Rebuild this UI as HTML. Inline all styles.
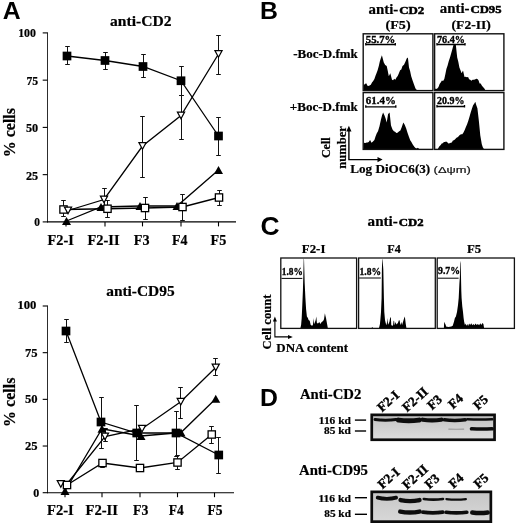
<!DOCTYPE html>
<html lang="en"><head><meta charset="utf-8"><title>Figure</title>
<style>html,body{margin:0;padding:0;background:#fff}body{width:520px;height:525px;overflow:hidden}svg{display:block}.s{font-family:"Liberation Serif",serif;font-weight:bold;fill:#000;stroke:#000;stroke-width:0.22px}.a{font-family:"Liberation Sans",sans-serif;font-weight:bold;fill:#000}.r{font-family:"Liberation Sans",sans-serif;fill:#111;stroke:#111;stroke-width:0.2px}</style>
</head><body>
<svg width="520" height="525" viewBox="0 0 520 525">
<rect width="520" height="525" fill="#fff"/>
<text class="a" x="2.8" y="19.2" font-size="24.8">A</text>
<text class="a" x="260.0" y="18.8" font-size="24.8">B</text>
<text class="a" x="260.4" y="234.7" font-size="26.4">C</text>
<text class="a" x="260.1" y="405.5" font-size="24.8">D</text>
<line x1="47.5" y1="32.4" x2="47.5" y2="222.4" stroke="#222" stroke-width="0.95"/>
<line x1="47.0" y1="221.9" x2="236" y2="221.9" stroke="#000" stroke-width="1.1"/>
<line x1="42.7" y1="32.9" x2="47.5" y2="32.9" stroke="#000" stroke-width="1.1"/>
<line x1="42.7" y1="80.15" x2="47.5" y2="80.15" stroke="#000" stroke-width="1.1"/>
<line x1="42.7" y1="127.4" x2="47.5" y2="127.4" stroke="#000" stroke-width="1.1"/>
<line x1="42.7" y1="174.65" x2="47.5" y2="174.65" stroke="#000" stroke-width="1.1"/>
<line x1="42.7" y1="221.9" x2="47.5" y2="221.9" stroke="#000" stroke-width="1.1"/>
<text class="s" x="18.2" y="37" font-size="12.8" textLength="17.8" lengthAdjust="spacingAndGlyphs">100</text>
<text class="s" x="26.5" y="84.6" font-size="12.8" textLength="11.7" lengthAdjust="spacingAndGlyphs">75</text>
<text class="s" x="26" y="132.1" font-size="12.8" textLength="12.2" lengthAdjust="spacingAndGlyphs">50</text>
<text class="s" x="26" y="179.5" font-size="12.8" textLength="12.2" lengthAdjust="spacingAndGlyphs">25</text>
<text class="s" x="34.3" y="226" font-size="12.8" textLength="5.7" lengthAdjust="spacingAndGlyphs">0</text>
<line x1="66" y1="221.9" x2="66" y2="226.4" stroke="#000" stroke-width="1.1"/>
<line x1="105" y1="221.9" x2="105" y2="226.4" stroke="#000" stroke-width="1.1"/>
<line x1="142.5" y1="221.9" x2="142.5" y2="226.4" stroke="#000" stroke-width="1.1"/>
<line x1="181" y1="221.9" x2="181" y2="226.4" stroke="#000" stroke-width="1.1"/>
<line x1="218.5" y1="221.9" x2="218.5" y2="226.4" stroke="#000" stroke-width="1.1"/>
<text class="s" x="47.5" y="244.8" font-size="14.8" textLength="26.25" lengthAdjust="spacingAndGlyphs">F2-I</text>
<text class="s" x="87.5" y="244.8" font-size="14.8" textLength="32.0" lengthAdjust="spacingAndGlyphs">F2-II</text>
<text class="s" x="133.75" y="244.8" font-size="14.8" textLength="15.75" lengthAdjust="spacingAndGlyphs">F3</text>
<text class="s" x="172" y="244.8" font-size="14.8" textLength="15.5" lengthAdjust="spacingAndGlyphs">F4</text>
<text class="s" x="210.5" y="244.8" font-size="14.8" textLength="15.75" lengthAdjust="spacingAndGlyphs">F5</text>
<text class="s" x="110" y="26.2" font-size="15.5" textLength="61.5" lengthAdjust="spacingAndGlyphs">anti-CD2</text>
<text class="s" font-size="15.9" textLength="49.2" lengthAdjust="spacingAndGlyphs" transform="translate(15.3,157.2) rotate(-90)">% cells</text>
<path d="M67.5 46.5V64.5M65.2 46.5H69.8M65.2 64.5H69.8" stroke="#111" stroke-width="1.0" fill="none"/>
<path d="M105.5 52.5V69.5M103.2 52.5H107.8M103.2 69.5H107.8" stroke="#111" stroke-width="1.0" fill="none"/>
<path d="M143.5 54.5V77.5M141.2 54.5H145.8M141.2 77.5H145.8" stroke="#111" stroke-width="1.0" fill="none"/>
<path d="M181.5 66.5V95.5M179.2 66.5H183.8M179.2 95.5H183.8" stroke="#111" stroke-width="1.0" fill="none"/>
<path d="M218.5 117.5V155.5M216.2 117.5H220.8M216.2 155.5H220.8" stroke="#111" stroke-width="1.0" fill="none"/>
<path d="M104.5 188.5V205.5M102.2 188.5H106.8M102.2 205.5H106.8" stroke="#111" stroke-width="1.0" fill="none"/>
<path d="M142.5 116.5V177.5M140.2 116.5H144.8M140.2 177.5H144.8" stroke="#111" stroke-width="1.0" fill="none"/>
<path d="M181.5 95.5V139.5M179.2 95.5H183.8M179.2 139.5H183.8" stroke="#111" stroke-width="1.0" fill="none"/>
<path d="M218.5 35.5V74.5M216.2 35.5H220.8M216.2 74.5H220.8" stroke="#111" stroke-width="1.0" fill="none"/>
<path d="M63.5 200.5V216.5M61.2 200.5H65.8M61.2 216.5H65.8" stroke="#111" stroke-width="1.0" fill="none"/>
<path d="M107.5 200.5V217.5M105.2 200.5H109.8M105.2 217.5H109.8" stroke="#111" stroke-width="1.0" fill="none"/>
<path d="M145.5 197.5V219.5M143.2 197.5H147.8M143.2 219.5H147.8" stroke="#111" stroke-width="1.0" fill="none"/>
<path d="M182.5 194.5V220.5M180.2 194.5H184.8M180.2 220.5H184.8" stroke="#111" stroke-width="1.0" fill="none"/>
<path d="M219.5 190.5V205.5M217.2 190.5H221.8M217.2 205.5H221.8" stroke="#111" stroke-width="1.0" fill="none"/>
<polyline points="66.5,221 101,207 140,206 177,206 218.5,170" fill="none" stroke="#000" stroke-width="1.3"/>
<polyline points="67,56 105,60.5 143,66.5 181,80.75 218.5,136" fill="none" stroke="#000" stroke-width="1.3"/>
<polyline points="63.5,209.5 107.5,208.75 145,208 182.5,207 219,197.5" fill="none" stroke="#000" stroke-width="1.3"/>
<polyline points="68,210.5 104,199.5 142.5,146 181,115.5 218.5,54" fill="none" stroke="#000" stroke-width="1.3"/>
<path d="M62.0 224.96L71.0 224.96L66.5 217.04Z" fill="#000"/>
<path d="M96.5 210.96L105.5 210.96L101 203.04Z" fill="#000"/>
<path d="M135.5 209.96L144.5 209.96L140 202.04Z" fill="#000"/>
<path d="M172.5 209.96L181.5 209.96L177 202.04Z" fill="#000"/>
<path d="M214.0 173.96L223.0 173.96L218.5 166.04Z" fill="#000"/>
<rect x="62.65" y="51.65" width="8.7" height="8.7" fill="#000"/>
<rect x="100.65" y="56.15" width="8.7" height="8.7" fill="#000"/>
<rect x="138.65" y="62.15" width="8.7" height="8.7" fill="#000"/>
<rect x="176.65" y="76.4" width="8.7" height="8.7" fill="#000"/>
<rect x="214.15" y="131.65" width="8.7" height="8.7" fill="#000"/>
<rect x="59.85" y="205.85" width="7.3" height="7.3" fill="#fff" stroke="#000" stroke-width="1.3"/>
<rect x="103.85" y="205.1" width="7.3" height="7.3" fill="#fff" stroke="#000" stroke-width="1.3"/>
<rect x="141.35" y="204.35" width="7.3" height="7.3" fill="#fff" stroke="#000" stroke-width="1.3"/>
<rect x="178.85" y="203.35" width="7.3" height="7.3" fill="#fff" stroke="#000" stroke-width="1.3"/>
<rect x="215.35" y="193.85" width="7.3" height="7.3" fill="#fff" stroke="#000" stroke-width="1.3"/>
<path d="M64.4 207.152L71.6 207.152L68 213.848Z" fill="#fff" stroke="#000" stroke-width="1.2"/>
<path d="M100.4 196.152L107.6 196.152L104 202.848Z" fill="#fff" stroke="#000" stroke-width="1.2"/>
<path d="M138.9 142.652L146.1 142.652L142.5 149.348Z" fill="#fff" stroke="#000" stroke-width="1.2"/>
<path d="M177.4 112.152L184.6 112.152L181 118.848Z" fill="#fff" stroke="#000" stroke-width="1.2"/>
<path d="M214.9 50.652L222.1 50.652L218.5 57.348Z" fill="#fff" stroke="#000" stroke-width="1.2"/>
<line x1="47.5" y1="305.5" x2="47.5" y2="493.2" stroke="#222" stroke-width="0.95"/>
<line x1="47.0" y1="492.7" x2="234" y2="492.7" stroke="#000" stroke-width="1.1"/>
<line x1="42.7" y1="306.0" x2="47.5" y2="306.0" stroke="#000" stroke-width="1.1"/>
<line x1="42.7" y1="352.675" x2="47.5" y2="352.675" stroke="#000" stroke-width="1.1"/>
<line x1="42.7" y1="399.35" x2="47.5" y2="399.35" stroke="#000" stroke-width="1.1"/>
<line x1="42.7" y1="446.025" x2="47.5" y2="446.025" stroke="#000" stroke-width="1.1"/>
<line x1="42.7" y1="492.7" x2="47.5" y2="492.7" stroke="#000" stroke-width="1.1"/>
<text class="s" x="17.4" y="309.3" font-size="13" textLength="19.0" lengthAdjust="spacingAndGlyphs">100</text>
<text class="s" x="25" y="356.9" font-size="13" textLength="12.6" lengthAdjust="spacingAndGlyphs">75</text>
<text class="s" x="25" y="403.2" font-size="13" textLength="12.6" lengthAdjust="spacingAndGlyphs">50</text>
<text class="s" x="25" y="449.8" font-size="13" textLength="12.6" lengthAdjust="spacingAndGlyphs">25</text>
<text class="s" x="33.3" y="496.5" font-size="13" textLength="6.0" lengthAdjust="spacingAndGlyphs">0</text>
<line x1="65" y1="492.7" x2="65" y2="497.2" stroke="#000" stroke-width="1.1"/>
<line x1="102" y1="492.7" x2="102" y2="497.2" stroke="#000" stroke-width="1.1"/>
<line x1="140" y1="492.7" x2="140" y2="497.2" stroke="#000" stroke-width="1.1"/>
<line x1="177.5" y1="492.7" x2="177.5" y2="497.2" stroke="#000" stroke-width="1.1"/>
<line x1="214.5" y1="492.7" x2="214.5" y2="497.2" stroke="#000" stroke-width="1.1"/>
<text class="s" x="47" y="514.8" font-size="14.8" textLength="26.75" lengthAdjust="spacingAndGlyphs">F2-I</text>
<text class="s" x="85.5" y="514.8" font-size="14.8" textLength="32.5" lengthAdjust="spacingAndGlyphs">F2-II</text>
<text class="s" x="133" y="514.8" font-size="14.8" textLength="15.3" lengthAdjust="spacingAndGlyphs">F3</text>
<text class="s" x="168.75" y="514.8" font-size="14.8" textLength="15.0" lengthAdjust="spacingAndGlyphs">F4</text>
<text class="s" x="207.5" y="514.8" font-size="14.8" textLength="15.0" lengthAdjust="spacingAndGlyphs">F5</text>
<text class="s" x="106.2" y="295.8" font-size="15.5" textLength="68.4" lengthAdjust="spacingAndGlyphs">anti-CD95</text>
<text class="s" font-size="15.9" textLength="49.3" lengthAdjust="spacingAndGlyphs" transform="translate(15.3,426.9) rotate(-90)">% cells</text>
<path d="M66.5 319.5V342.5M64.2 319.5H68.8M64.2 342.5H68.8" stroke="#111" stroke-width="1.0" fill="none"/>
<path d="M101.5 397.5V448.5M99.2 397.5H103.8M99.2 448.5H103.8" stroke="#111" stroke-width="1.0" fill="none"/>
<path d="M136.5 405.5V460.5M134.2 405.5H138.8M134.2 460.5H138.8" stroke="#111" stroke-width="1.0" fill="none"/>
<path d="M176.5 411.5V456.5M174.2 411.5H178.8M174.2 456.5H178.8" stroke="#111" stroke-width="1.0" fill="none"/>
<path d="M218.5 437.5V473.5M216.2 437.5H220.8M216.2 473.5H220.8" stroke="#111" stroke-width="1.0" fill="none"/>
<path d="M180.5 387.5V418.5M178.2 387.5H182.8M178.2 418.5H182.8" stroke="#111" stroke-width="1.0" fill="none"/>
<path d="M215.5 358.5V375.5M213.2 358.5H217.8M213.2 375.5H217.8" stroke="#111" stroke-width="1.0" fill="none"/>
<path d="M105.5 428.5V441.5M103.2 428.5H107.8M103.2 441.5H107.8" stroke="#111" stroke-width="1.0" fill="none"/>
<path d="M177.5 455.5V469.5M175.2 455.5H179.8M175.2 469.5H179.8" stroke="#111" stroke-width="1.0" fill="none"/>
<path d="M211.5 426.5V443.5M209.2 426.5H213.8M209.2 443.5H213.8" stroke="#111" stroke-width="1.0" fill="none"/>
<path d="M102.5 459.5V467.5M100.2 459.5H104.8M100.2 467.5H104.8" stroke="#111" stroke-width="1.0" fill="none"/>
<polyline points="65,491 102,428.75 141,436 181,432.5 215.75,398.75" fill="none" stroke="#000" stroke-width="1.3"/>
<polyline points="66,331 101,422 136.75,433 176,433 218.75,455" fill="none" stroke="#000" stroke-width="1.3"/>
<polyline points="66.5,484.5 105,436.5 142,428.75 180.75,401.75 215.75,367.5" fill="none" stroke="#000" stroke-width="1.3"/>
<polyline points="67,485 102.5,463 140,468 177.5,462.5 211.75,434.5" fill="none" stroke="#000" stroke-width="1.3"/>
<path d="M60.5 494.96L69.5 494.96L65 487.04Z" fill="#000"/>
<path d="M97.5 432.71L106.5 432.71L102 424.79Z" fill="#000"/>
<path d="M136.5 439.96L145.5 439.96L141 432.04Z" fill="#000"/>
<path d="M176.5 436.46L185.5 436.46L181 428.54Z" fill="#000"/>
<path d="M211.25 402.71L220.25 402.71L215.75 394.79Z" fill="#000"/>
<rect x="61.65" y="326.65" width="8.7" height="8.7" fill="#000"/>
<rect x="96.65" y="417.65" width="8.7" height="8.7" fill="#000"/>
<rect x="132.4" y="428.65" width="8.7" height="8.7" fill="#000"/>
<rect x="171.65" y="428.65" width="8.7" height="8.7" fill="#000"/>
<rect x="214.4" y="450.65" width="8.7" height="8.7" fill="#000"/>
<path d="M57.199999999999996 480.55199999999996L64.39999999999999 480.55199999999996L60.8 487.248Z" fill="#fff" stroke="#000" stroke-width="1.2"/>
<path d="M101.4 433.152L108.6 433.152L105 439.848Z" fill="#fff" stroke="#000" stroke-width="1.2"/>
<path d="M138.4 425.402L145.6 425.402L142 432.098Z" fill="#fff" stroke="#000" stroke-width="1.2"/>
<path d="M177.15 398.402L184.35 398.402L180.75 405.098Z" fill="#fff" stroke="#000" stroke-width="1.2"/>
<path d="M212.15 364.152L219.35 364.152L215.75 370.848Z" fill="#fff" stroke="#000" stroke-width="1.2"/>
<rect x="63.35" y="481.35" width="7.3" height="7.3" fill="#fff" stroke="#000" stroke-width="1.3"/>
<rect x="98.85" y="459.35" width="7.3" height="7.3" fill="#fff" stroke="#000" stroke-width="1.3"/>
<rect x="136.35" y="464.35" width="7.3" height="7.3" fill="#fff" stroke="#000" stroke-width="1.3"/>
<rect x="173.85" y="458.85" width="7.3" height="7.3" fill="#fff" stroke="#000" stroke-width="1.3"/>
<rect x="208.1" y="430.85" width="7.3" height="7.3" fill="#fff" stroke="#000" stroke-width="1.3"/>
<text class="s" x="368.5" y="13.5" font-size="15" textLength="29.8" lengthAdjust="spacingAndGlyphs">anti-</text>
<text class="s" x="399.2" y="13.5" font-size="11" style="stroke-width:0.5px" textLength="25.1" lengthAdjust="spacingAndGlyphs">CD2</text>
<text class="s" x="385.6" y="29.45" font-size="13.3" textLength="25.0" lengthAdjust="spacingAndGlyphs">(F5)</text>
<text class="s" x="439.7" y="13.2" font-size="15" textLength="29.8" lengthAdjust="spacingAndGlyphs">anti-</text>
<text class="s" x="470.5" y="13.2" font-size="11" style="stroke-width:0.5px" textLength="31.0" lengthAdjust="spacingAndGlyphs">CD95</text>
<text class="s" x="451.6" y="29.45" font-size="13.3" textLength="39.3" lengthAdjust="spacingAndGlyphs">(F2-II)</text>
<text class="s" x="293.2" y="57.8" font-size="13.3" textLength="64.6" lengthAdjust="spacingAndGlyphs">-Boc-D.fmk</text>
<text class="s" x="289.8" y="111" font-size="13.3" textLength="68.0" lengthAdjust="spacingAndGlyphs">+Boc-D.fmk</text>
<path d="M363.6 90.3L363.6 85.5L365.0 83.7L366.5 83.4L367.2 85.5L368.4 86.0L369.6 85.6L370.8 84.8L372.0 82.4L373.2 81.0L374.4 79.0L375.5 75.7L376.6 72.9L377.7 69.9L378.8 66.1L379.8 61.6L380.9 57.9L381.9 55.2L383.8 62.5L385.2 64.9L386.7 66.1L387.8 71.0L388.8 76.2L390.3 73.3L392.0 79.8L393.1 80.3L394.2 78.8L395.3 79.8L396.5 77.5L397.7 75.9L398.9 73.3L400.1 70.3L401.3 69.4L402.5 66.1L404.0 64.7L405.4 61.7L406.7 58.6L407.9 57.4L409.0 67.5L410.1 70.9L411.2 76.2L412.6 80.6L414.1 84.8L415.5 88.4L417.0 90.3L417.0 90.3Z" fill="#000"/>
<path d="M434.9 90.3L434.9 88.4L436.1 88.9L437.3 88.4L438.5 87.0L439.6 83.9L440.7 82.6L441.9 80.6L443.1 80.9L444.3 79.0L445.3 74.5L446.4 68.9L447.6 65.4L448.8 60.9L450.0 57.4L451.2 53.3L452.4 49.0L453.6 44.4L454.7 44.6L455.8 44.4L457.2 57.4L458.3 61.8L459.4 67.5L460.5 70.2L461.6 73.3L463.0 70.4L464.5 76.9L465.7 76.7L466.9 77.3L468.1 76.9L469.1 79.3L470.2 79.8L471.4 80.7L472.6 79.8L473.8 79.8L475.0 79.4L476.2 78.8L477.4 79.0L478.5 80.3L479.6 83.4L480.7 83.5L481.8 85.5L483.0 87.0L484.2 88.3L485.4 90.3L485.4 90.3Z" fill="#000"/>
<path d="M363.6 149.0L363.6 143.5L364.6 142.7L365.6 143.0L366.6 142.4L367.6 142.6L368.7 142.1L370.1 139.9L371.5 142.8L373.0 141.6L374.4 139.9L375.6 136.2L376.8 133.2L378.0 131.3L379.5 126.2L380.9 119.7L382.0 115.6L383.1 112.5L384.5 115.4L385.6 118.5L386.7 122.6L388.1 114.0L389.6 112.5L391.0 125.5L392.5 129.4L393.9 131.3L395.1 131.7L396.3 132.9L397.5 132.7L398.9 131.6L400.4 130.5L401.8 126.9L403.3 122.6L404.7 124.8L406.2 128.4L407.6 133.0L409.0 137.0L410.2 140.2L411.4 141.9L412.6 144.2L414.1 146.5L415.5 147.9L416.7 148.6L417.9 147.7L419.1 149.0L419.1 149.0Z" fill="#000"/>
<path d="M437.8 149.0L437.8 149.0L439.2 146.5L440.7 145.0L441.7 143.4L442.8 143.3L443.9 142.1L445.0 142.1L446.1 141.4L447.3 142.2L448.4 143.4L449.6 143.3L450.8 142.8L451.8 142.4L452.9 140.4L454.0 140.2L455.1 139.2L456.5 137.7L458.0 137.0L459.0 135.7L460.1 134.8L461.2 134.3L462.3 134.2L463.5 132.6L464.7 130.0L465.9 126.9L467.1 124.2L468.3 120.8L469.5 116.8L470.7 112.4L471.9 108.8L473.1 105.3L474.2 103.8L475.3 101.7L476.4 105.4L477.4 108.2L478.9 121.2L480.3 135.6L481.8 144.2L482.8 147.3L483.9 149.0L483.9 149.0Z" fill="#000"/>
<rect x="363.2" y="33.8" width="69.7" height="56.8" fill="none" stroke="#111" stroke-width="1.4"/>
<rect x="434.6" y="33.8" width="69.3" height="56.8" fill="none" stroke="#111" stroke-width="1.4"/>
<rect x="363.2" y="92.6" width="69.7" height="56.8" fill="none" stroke="#111" stroke-width="1.4"/>
<rect x="434.6" y="92.6" width="69.3" height="56.8" fill="none" stroke="#111" stroke-width="1.4"/>
<text class="s" x="365.8" y="42.7" font-size="10.7" style="stroke-width:0.35px" textLength="29.5" lengthAdjust="spacingAndGlyphs">55.7%</text>
<path d="M365.8 44.5H395.3M365.8 43.0V45.5M395.3 43.0V45.5" stroke="#000" stroke-width="1.35" fill="none"/>
<text class="s" x="437" y="42.7" font-size="10.7" style="stroke-width:0.35px" textLength="28" lengthAdjust="spacingAndGlyphs">76.4%</text>
<path d="M437 44.5H465M437 43.0V45.5M465 43.0V45.5" stroke="#000" stroke-width="1.35" fill="none"/>
<text class="s" x="365.8" y="103.9" font-size="10.7" style="stroke-width:0.35px" textLength="30.0" lengthAdjust="spacingAndGlyphs">61.4%</text>
<path d="M365.8 106.8H395.8M365.8 105.3V107.8M395.8 105.3V107.8" stroke="#000" stroke-width="1.35" fill="none"/>
<text class="s" x="437" y="103.6" font-size="10.7" style="stroke-width:0.35px" textLength="27.5" lengthAdjust="spacingAndGlyphs">20.9%</text>
<path d="M437 106.5H464.5M437 105.0V107.5M464.5 105.0V107.5" stroke="#000" stroke-width="1.35" fill="none"/>
<text class="s" font-size="13.5" textLength="20.8" lengthAdjust="spacingAndGlyphs" transform="translate(329.7,158.1) rotate(-90)">Cell</text>
<text class="s" font-size="12.6" textLength="42.7" lengthAdjust="spacingAndGlyphs" transform="translate(346.4,168.8) rotate(-90)">number</text>
<path d="M348.9 130V159.6H379" stroke="#000" stroke-width="1.4" fill="none"/>
<path d="M348.9 125.8L346.3 131.5H351.5ZM382.6 159.6L377.5 157V162.2Z" fill="#000"/>
<text class="s" x="350.3" y="173.4" font-size="13.1" textLength="79.9" lengthAdjust="spacingAndGlyphs">Log DiOC6(3)</text>
<text class="r" x="433.6" y="173.1" font-size="9.8" textLength="37.2" lengthAdjust="spacingAndGlyphs">(&#916;&#968;m)</text>
<text class="s" x="367.6" y="225.5" font-size="15" textLength="30.2" lengthAdjust="spacingAndGlyphs">anti-</text>
<text class="s" x="398.8" y="225.5" font-size="11" style="stroke-width:0.5px" textLength="24.7" lengthAdjust="spacingAndGlyphs">CD2</text>
<text class="s" x="301.8" y="252.7" font-size="12.9" textLength="23.6" lengthAdjust="spacingAndGlyphs">F2-I</text>
<text class="s" x="387.3" y="252.5" font-size="12.6" textLength="13.5" lengthAdjust="spacingAndGlyphs">F4</text>
<text class="s" x="467" y="253.2" font-size="12.6" textLength="14.2" lengthAdjust="spacingAndGlyphs">F5</text>
<path d="M300.3 328.6L301.1 325.0L301.7 317.9L302.3 305.0L302.9 290.7L303.3 276.4L303.7 259.3L304.0 258.6L304.3 269.3L304.7 283.6L305.4 297.9L306.1 309.3L306.9 316.4L307.9 317.9L308.6 320.0L309.7 320.7L310.7 325.0L312.1 325.7L312.9 325.0L313.4 317.9L314.0 324.3L315.0 322.1L315.7 320.0L316.3 316.4L316.9 322.9L318.0 323.6L319.3 321.9L320.3 323.9L321.7 322.1L323.1 321.0L324.0 319.3L324.9 313.3L325.4 315.7L326.0 317.9L326.9 322.9L327.9 328.6Z" fill="#000"/>
<path d="M371.4 328.6L372.1 327.1L373.0 328.1L376.4 328.3L379.0 327.9L379.9 324.3L380.4 319.3L381.0 312.1L381.6 297.9L381.9 269.3L382.3 259.3L382.6 259.3L383.3 269.3L383.9 297.9L384.3 312.1L385.0 320.0L385.7 322.9L386.4 325.3L387.1 322.1L387.6 317.9L388.0 324.7L388.7 323.6L389.4 321.9L390.3 317.1L390.9 317.9L391.3 325.3L393.0 325.7L393.6 320.7L394.1 321.0L394.6 325.3L395.6 322.1L396.4 324.4L397.9 323.0L399.0 320.1L399.7 320.7L400.3 325.3L401.3 322.1L402.1 325.0L403.3 321.0L404.6 316.4L405.1 318.6L405.7 323.6L406.4 327.9L407.1 328.6Z" fill="#000"/>
<path d="M443.9 328.1L444.1 322.9L444.7 322.1L445.1 325.0L445.6 323.6L446.0 326.4L448.4 326.9L451.3 326.4L452.7 325.7L453.9 322.1L454.9 317.9L455.9 316.4L457.0 312.1L458.0 305.0L458.7 297.9L459.4 283.6L459.9 276.4L460.1 263.6L460.3 260.7L460.6 263.6L461.0 276.4L461.3 290.7L461.6 297.9L462.3 306.4L463.0 312.1L463.6 317.9L464.1 321.4L464.9 325.0L465.6 323.6L466.3 325.7L467.3 323.9L468.1 325.9L469.1 323.6L470.1 325.0L471.3 323.3L472.3 325.3L473.4 323.9L474.4 325.3L475.6 323.6L476.7 325.0L477.9 323.9L479.1 325.3L480.3 323.3L481.3 325.0L482.4 323.0L483.4 323.9L484.1 328.1Z" fill="#000"/>
<rect x="280.8" y="258" width="75.8" height="70.4" fill="none" stroke="#111" stroke-width="1.3"/>
<rect x="358.6" y="258" width="76.7" height="70.4" fill="none" stroke="#111" stroke-width="1.3"/>
<rect x="437.2" y="258" width="77.2" height="70.4" fill="none" stroke="#111" stroke-width="1.3"/>
<text class="s" x="281.8" y="275.4" font-size="10.9" style="stroke-width:0.35px" textLength="21.0" lengthAdjust="spacingAndGlyphs">1.8%</text>
<path d="M281.5 278.4H302.3" stroke="#000" stroke-width="1" fill="none"/>
<text class="s" x="359.5" y="275.1" font-size="10.9" style="stroke-width:0.35px" textLength="21.5" lengthAdjust="spacingAndGlyphs">1.8%</text>
<path d="M359.2 278H380.8" stroke="#000" stroke-width="1" fill="none"/>
<text class="s" x="438" y="274.4" font-size="10.9" style="stroke-width:0.35px" textLength="22" lengthAdjust="spacingAndGlyphs">9.7%</text>
<path d="M438 278.2H458.6" stroke="#000" stroke-width="1" fill="none"/>
<text class="s" font-size="12.8" textLength="54.8" lengthAdjust="spacingAndGlyphs" transform="translate(271.1,349.4) rotate(-90)">Cell count</text>
<path d="M274.9 320V336.9H289.5" stroke="#000" stroke-width="1.1" fill="none"/>
<path d="M274.9 316.5L272.9 321.5H276.9ZM292.8 336.9L288 334.9V338.9Z" fill="#000"/>
<text class="s" x="276.3" y="351.9" font-size="13" textLength="71.7" lengthAdjust="spacingAndGlyphs">DNA content</text>
<text class="s" x="300" y="398.7" font-size="15" textLength="61.3" lengthAdjust="spacingAndGlyphs">Anti-CD2</text>
<text class="s" x="299" y="475.2" font-size="15" textLength="68.9" lengthAdjust="spacingAndGlyphs">Anti-CD95</text>
<text class="s" x="318.8" y="423.8" font-size="11.3" textLength="32.1" lengthAdjust="spacingAndGlyphs">116 kd</text>
<text class="s" x="324.1" y="433.6" font-size="11.3" textLength="26.8" lengthAdjust="spacingAndGlyphs">85 kd</text>
<line x1="354.9" y1="420.1" x2="366.1" y2="420.1" stroke="#000" stroke-width="1.4"/>
<line x1="354.9" y1="431" x2="366.1" y2="431" stroke="#000" stroke-width="1.4"/>
<text class="s" x="318.4" y="501.6" font-size="11.3" textLength="32.5" lengthAdjust="spacingAndGlyphs">116 kd</text>
<text class="s" x="324.3" y="517.4" font-size="11.3" textLength="26.6" lengthAdjust="spacingAndGlyphs">85 kd</text>
<line x1="354.9" y1="497.7" x2="367" y2="497.7" stroke="#000" stroke-width="1.4"/>
<line x1="354.9" y1="514.3" x2="367" y2="514.3" stroke="#000" stroke-width="1.4"/>
<defs><linearGradient id="g1" x1="0" y1="0" x2="0" y2="1"><stop offset="0" stop-color="#b4b4b4"/><stop offset="0.3" stop-color="#cacaca"/><stop offset="1" stop-color="#dedede"/></linearGradient><linearGradient id="g2" x1="0" y1="0" x2="0" y2="1"><stop offset="0" stop-color="#c6c6c6"/><stop offset="1" stop-color="#d8d8d8"/></linearGradient><filter id="bl" filterUnits="userSpaceOnUse" x="360" y="405" width="150" height="120"><feGaussianBlur stdDeviation="0.45"/></filter></defs>
<rect x="371" y="414" width="124" height="26" fill="url(#g1)"/>
<path d="M375.1 419.5Q385.5 421.0 395.9 419.5" stroke="#0e0e0e" stroke-width="3.2" stroke-linecap="round" fill="none" filter="url(#bl)"/>
<path d="M398.5 420.1Q408.75 421.6 419.0 420.1" stroke="#0e0e0e" stroke-width="5.0" stroke-linecap="round" fill="none" filter="url(#bl)"/>
<path d="M422.6 419.7Q432.0 421.2 441.4 419.7" stroke="#0e0e0e" stroke-width="4.2" stroke-linecap="round" fill="none" filter="url(#bl)"/>
<path d="M444.3 419.7Q454.75 421.2 465.2 419.7" stroke="#0e0e0e" stroke-width="3.6" stroke-linecap="round" fill="none" filter="url(#bl)"/>
<path d="M467.35 419.25Q479.75 419.7 492.15 419.25" stroke="#0e0e0e" stroke-width="2.7" stroke-linecap="round" fill="none" filter="url(#bl)"/>
<path d="M448.75 429.09999999999997Q456.25 429.4 463.75 429.09999999999997" stroke="#9a9a9a" stroke-width="1.1" stroke-linecap="round" fill="none" filter="url(#bl)"/>
<path d="M471.55 428.75Q481.85 429.2 492.15 428.75" stroke="#0e0e0e" stroke-width="3.7" stroke-linecap="round" fill="none" filter="url(#bl)"/>
<rect x="371.75" y="414.85" width="122.8" height="24.9" fill="none" stroke="#0c0c0c" stroke-width="2.7"/>
<rect x="371" y="491" width="121" height="31" fill="url(#g2)"/>
<path d="M377.7 497.7Q386.9 500.1 396.1 497.7" stroke="#0e0e0e" stroke-width="3.8" stroke-linecap="round" fill="none" filter="url(#bl)"/>
<path d="M400.59999999999997 500.1Q410.04999999999995 502.2 419.5 500.1" stroke="#0e0e0e" stroke-width="4.4" stroke-linecap="round" fill="none" filter="url(#bl)"/>
<path d="M423.8 499.0Q433.4 500.2 443.0 499.0" stroke="#0e0e0e" stroke-width="2.6" stroke-linecap="round" fill="none" filter="url(#bl)"/>
<path d="M446.40000000000003 499.1Q456.15 500.3 465.9 499.1" stroke="#0e0e0e" stroke-width="2.2" stroke-linecap="round" fill="none" filter="url(#bl)"/>
<path d="M400.25 511.6Q409.9 513.4000000000001 419.55 511.6" stroke="#0e0e0e" stroke-width="4.5" stroke-linecap="round" fill="none" filter="url(#bl)"/>
<path d="M422.9 512.2Q432.8 513.4 442.70000000000005 512.2" stroke="#0e0e0e" stroke-width="3.8" stroke-linecap="round" fill="none" filter="url(#bl)"/>
<path d="M446.0 512.3000000000001Q456.4 513.5 466.8 512.3000000000001" stroke="#0e0e0e" stroke-width="3.6" stroke-linecap="round" fill="none" filter="url(#bl)"/>
<path d="M472.25 512.5Q480.0 513.6999999999999 487.75 512.5" stroke="#0e0e0e" stroke-width="4.5" stroke-linecap="round" fill="none" filter="url(#bl)"/>
<rect x="371.75" y="491.85" width="119.1" height="29.8" fill="none" stroke="#0c0c0c" stroke-width="2.7"/>
<text class="s" font-size="13.2" style="stroke-width:0.4px" transform="translate(382,412.5) rotate(-42)">F2-I</text>
<text class="s" font-size="13.2" style="stroke-width:0.4px" transform="translate(407,412.5) rotate(-42)">F2-II</text>
<text class="s" font-size="13.2" style="stroke-width:0.4px" transform="translate(432,410.5) rotate(-42)">F3</text>
<text class="s" font-size="13.2" style="stroke-width:0.4px" transform="translate(453,409.5) rotate(-42)">F4</text>
<text class="s" font-size="13.2" style="stroke-width:0.4px" transform="translate(478,410.5) rotate(-42)">F5</text>
<text class="s" font-size="13.2" style="stroke-width:0.4px" transform="translate(382.5,489.5) rotate(-42)">F2-I</text>
<text class="s" font-size="13.2" style="stroke-width:0.4px" transform="translate(407,490) rotate(-42)">F2-II</text>
<text class="s" font-size="13.2" style="stroke-width:0.4px" transform="translate(429.5,489.5) rotate(-42)">F3</text>
<text class="s" font-size="13.2" style="stroke-width:0.4px" transform="translate(453.5,489) rotate(-42)">F4</text>
<text class="s" font-size="13.2" style="stroke-width:0.4px" transform="translate(478.5,489) rotate(-42)">F5</text>
</svg></body></html>
